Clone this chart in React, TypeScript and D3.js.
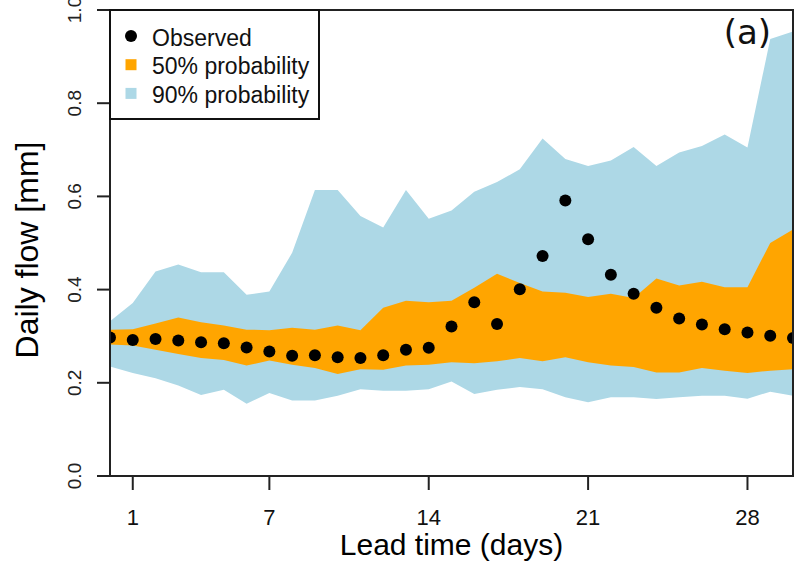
import * as d3 from "d3";

// lead time in days (0..30)
const days = d3.range(0, 31);

const observed = [
  0.297, 0.292, 0.294, 0.291, 0.287, 0.285, 0.276, 0.267, 0.258, 0.259, 0.255,
  0.253, 0.259, 0.271, 0.275, 0.321, 0.373, 0.326, 0.401, 0.472, 0.591, 0.508,
  0.432, 0.391, 0.361, 0.338, 0.325, 0.315, 0.308, 0.301, 0.296,
];

const p50Upper = [
  0.314, 0.315, 0.327, 0.34, 0.33, 0.323, 0.314, 0.313, 0.318, 0.314, 0.323,
  0.313, 0.361, 0.376, 0.373, 0.376, 0.404, 0.434, 0.414, 0.396, 0.393, 0.384,
  0.391, 0.382, 0.424, 0.409, 0.417, 0.405, 0.405, 0.5, 0.529,
];
const p50Lower = [
  0.282, 0.28, 0.271, 0.262, 0.253, 0.249, 0.237, 0.248, 0.239, 0.232, 0.219,
  0.229, 0.228, 0.237, 0.239, 0.244, 0.242, 0.246, 0.253, 0.246, 0.255, 0.244,
  0.237, 0.234, 0.222, 0.222, 0.232, 0.226, 0.221, 0.226, 0.229,
];

const p90Upper = [
  0.332, 0.371, 0.439, 0.454, 0.437, 0.437, 0.389, 0.396, 0.479, 0.614, 0.614,
  0.558, 0.533, 0.614, 0.552, 0.57, 0.61, 0.631, 0.658, 0.724, 0.68, 0.665,
  0.677, 0.706, 0.665, 0.694, 0.708, 0.733, 0.705, 0.938, 0.954,
];
const p90Lower = [
  0.235, 0.221, 0.21, 0.194, 0.174, 0.185, 0.155, 0.178, 0.162, 0.162, 0.172,
  0.186, 0.183, 0.183, 0.186, 0.203, 0.176, 0.185, 0.191, 0.186, 0.169, 0.158,
  0.169, 0.169, 0.165, 0.169, 0.172, 0.172, 0.166, 0.181, 0.172,
];

const xTicks = [1, 7, 14, 21, 28];
const yTicks = [0, 0.2, 0.4, 0.6, 0.8, 1.0];

const legendItems = [
  { label: "Observed", kind: "dot", color: "#000000" },
  { label: "50% probability", kind: "square", color: "#FFA500" },
  { label: "90% probability", kind: "square", color: "#ADD8E6" },
];

const W = 795;
const H = 561;
const left = 110;
const right = 793;
const top = 10;
const bottom = 476;
const font = "'Liberation Sans', Arial, sans-serif";

export default function App() {
  const x = d3.scaleLinear().domain([0, 30]).range([left, right]);
  const y = d3.scaleLinear().domain([0, 1]).range([bottom, top]);

  const band = (lo: number[], hi: number[]) =>
    d3
      .area<number>()
      .x((d) => x(d))
      .y0((d) => y(lo[d]))
      .y1((d) => y(hi[d]))(days) as string;

  return (
    <svg
      width={W}
      height={H}
      style={{ position: "absolute", left: 0, top: 0, background: "#fff" }}
    >
      <defs>
        <clipPath id="plot">
          <rect x={left} y={top} width={right - left} height={bottom - top} />
        </clipPath>
      </defs>

      <g clipPath="url(#plot)">
        <path d={band(p90Lower, p90Upper)} fill="#ADD8E6" />
        <path d={band(p50Lower, p50Upper)} fill="#FFA500" />
        {days.map((d) => (
          <circle key={d} cx={x(d)} cy={y(observed[d])} r={6} fill="#000" />
        ))}
      </g>

      {/* plot box */}
      <rect
        x={left}
        y={top}
        width={right - left}
        height={bottom - top}
        fill="none"
        stroke="#222"
        strokeWidth={2}
      />

      {/* x axis */}
      {xTicks.map((t) => (
        <g key={t}>
          <line x1={x(t)} x2={x(t)} y1={bottom} y2={bottom + 14} stroke="#222" strokeWidth={2} />
          <text
            x={x(t)}
            y={525}
            textAnchor="middle"
            fontFamily={font}
            fontSize={22}
            fill="#111"
          >
            {t}
          </text>
        </g>
      ))}
      <text
        x={(left + right) / 2}
        y={555}
        textAnchor="middle"
        fontFamily={font}
        fontSize={30}
        fill="#000"
      >
        Lead time (days)
      </text>

      {/* y axis */}
      {yTicks.map((t) => (
        <g key={t}>
          <line x1={left - 13} x2={left} y1={y(t)} y2={y(t)} stroke="#222" strokeWidth={2} />
          <text
            transform={`translate(81,${y(t)}) rotate(-90)`}
            textAnchor="middle"
            fontFamily={font}
            fontSize={19}
            fill="#222"
          >
            {t.toFixed(1)}
          </text>
        </g>
      ))}
      <text
        transform={`translate(38,250) rotate(-90)`}
        textAnchor="middle"
        fontFamily={font}
        fontSize={32}
        fill="#000"
      >
        Daily flow [mm]
      </text>

      {/* legend */}
      <rect x={left} y={top} width={209} height={109} fill="#fff" stroke="#111" strokeWidth={2} />
      {legendItems.map((item, i) => {
        const cy = 36 + i * 28.7;
        return (
          <g key={item.label}>
            {item.kind === "dot" ? (
              <circle cx={131} cy={cy} r={6} fill={item.color} />
            ) : (
              <rect x={125.5} y={cy - 5.5} width={11} height={11} fill={item.color} />
            )}
            <text x={152} y={cy + 9.5} fontFamily={font} fontSize={23} fill="#111">
              {item.label}
            </text>
          </g>
        );
      })}

      {/* panel label */}
      <text
        x={771}
        y={44}
        textAnchor="end"
        fontFamily="'DejaVu Sans', sans-serif"
        fontSize={34}
        fill="#111"
      >
        (a)
      </text>
    </svg>
  );
}
